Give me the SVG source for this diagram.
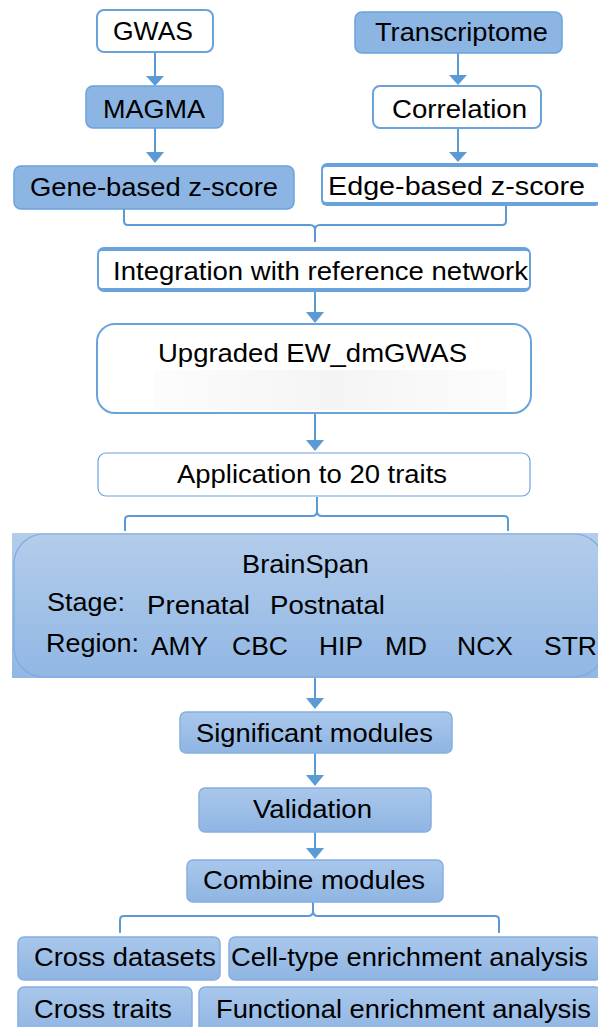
<svg xmlns="http://www.w3.org/2000/svg" width="598" height="1027" viewBox="0 0 598 1027">
  <defs>
    <linearGradient id="gBox" x1="0" y1="0" x2="0" y2="1">
      <stop offset="0" stop-color="#a9c7eb"/>
      <stop offset="1" stop-color="#8fb5e3"/>
    </linearGradient>
    <linearGradient id="gBrain" x1="0" y1="0" x2="0" y2="1">
      <stop offset="0" stop-color="#b3cdeb"/>
      <stop offset="1" stop-color="#91b7e4"/>
    </linearGradient>
    <linearGradient id="gHaze" x1="0" y1="0" x2="1" y2="0">
      <stop offset="0" stop-color="#f5f5f5" stop-opacity="0.3"/>
      <stop offset="0.5" stop-color="#f3f3f3" stop-opacity="0.9"/>
      <stop offset="1" stop-color="#f7f7f7" stop-opacity="0.4"/>
    </linearGradient>
  </defs>
  <style>
    text { font-family: "Liberation Sans", Arial, sans-serif; font-size: 25px; fill: #000; }
    .white { fill: #fff; stroke: #6aa2dc; stroke-width: 2; }
    .thin { fill: #fff; stroke: #6aa2dc; stroke-width: 1.2; }
    .blue { fill: #8db5e4; stroke: #6aa2dc; stroke-width: 1.5; }
    .grad { fill: url(#gBox); stroke: #86afe0; stroke-width: 1.5; }
    .band { fill: #6aa2dc; }
    .line { fill: none; stroke: #5b9bd5; stroke-width: 2; }
    .head { fill: #5b9bd5; }
  </style>

  <!-- connectors -->
  <g id="connectors">
    <!-- GWAS -> MAGMA -->
    <path class="line" d="M155,52 V77"/>
    <path class="head" d="M146,76 H164 L155,86 Z"/>
    <!-- MAGMA -> Gene-based -->
    <path class="line" d="M155,128 V153"/>
    <path class="head" d="M146,152 H164 L155,163 Z"/>
    <!-- Transcriptome -> Correlation -->
    <path class="line" d="M458,53 V76"/>
    <path class="head" d="M449,75 H467 L458,85 Z"/>
    <!-- Correlation -> Edge-based -->
    <path class="line" d="M458,128 V153"/>
    <path class="head" d="M449,152 H467 L458,162 Z"/>
    <!-- z-scores merge brace -->
    <path class="line" d="M124,209 V221 Q124,225 128,225 H310 Q315,225 315,230 Q315,225 320,225 H502 Q506,225 506,221 V205"/>
    <path class="line" d="M315,229 V242"/>
    <!-- Integration -> Upgraded -->
    <path class="line" d="M315,292 V313"/>
    <path class="head" d="M306,312 H324 L315,323 Z"/>
    <!-- Upgraded -> Application -->
    <path class="line" d="M315,413 V441"/>
    <path class="head" d="M306,440 H324 L315,451 Z"/>
    <!-- Application -> BrainSpan brace -->
    <path class="line" d="M317,497 V511"/>
    <path class="line" d="M125,531 V520 Q125,516 129,516 H312 Q317,516 317,511 Q317,516 322,516 H504 Q508,516 508,520 V531"/>
    <!-- BrainSpan -> Significant modules -->
    <path class="line" d="M315,677 V699"/>
    <path class="head" d="M306,698 H324 L315,709 Z"/>
    <!-- Significant modules -> Validation -->
    <path class="line" d="M315,753 V776"/>
    <path class="head" d="M306,775 H324 L315,786 Z"/>
    <!-- Validation -> Combine modules -->
    <path class="line" d="M315,832 V849"/>
    <path class="head" d="M306,848 H324 L315,859 Z"/>
    <!-- Combine modules -> downstream brace -->
    <path class="line" d="M313,902 V911"/>
    <path class="line" d="M120,933 V920 Q120,916 124,916 H308 Q313,916 313,911 Q313,916 318,916 H495 Q499,916 499,920 V933"/>
  </g>

  <!-- GWAS branch -->
  <g id="gwas">
    <rect class="white" x="97" y="10" width="116" height="42" rx="7"/>
    <text x="113" y="40" textLength="80" lengthAdjust="spacingAndGlyphs">GWAS</text>
  </g>
  <g id="magma">
    <rect class="blue" x="86" y="86" width="137" height="42" rx="7"/>
    <text x="103" y="118" textLength="102" lengthAdjust="spacingAndGlyphs">MAGMA</text>
  </g>
  <g id="gene-zscore">
    <rect class="blue" x="14" y="166" width="280" height="43" rx="7"/>
    <text x="30" y="196" textLength="248" lengthAdjust="spacingAndGlyphs">Gene-based z-score</text>
  </g>

  <!-- Transcriptome branch -->
  <g id="transcriptome">
    <rect class="blue" x="355" y="12" width="207" height="41" rx="7"/>
    <text x="375" y="41" textLength="173" lengthAdjust="spacingAndGlyphs">Transcriptome</text>
  </g>
  <g id="correlation">
    <rect class="white" x="373" y="86" width="168" height="42" rx="7"/>
    <text x="392" y="118" textLength="135" lengthAdjust="spacingAndGlyphs">Correlation</text>
  </g>
  <g id="edge-zscore">
    <rect class="band" x="321" y="163" width="280" height="43" rx="6"/>
    <rect x="323" y="167" width="280" height="35" rx="3" fill="#fff"/>
    <text x="328" y="195" textLength="257" lengthAdjust="spacingAndGlyphs">Edge-based z-score</text>
  </g>

  <!-- Integration -->
  <g id="integration">
    <rect class="band" x="97" y="247" width="434" height="45" rx="7"/>
    <rect x="99" y="251" width="430" height="37" rx="3" fill="#fff"/>
    <text x="113" y="280" textLength="415" lengthAdjust="spacingAndGlyphs">Integration with reference network</text>
  </g>

  <!-- Upgraded EW_dmGWAS -->
  <g id="upgraded">
    <rect class="white" x="97" y="324" width="434" height="89" rx="18" stroke-width="1.5"/>
    <rect x="155" y="370" width="352" height="40" fill="url(#gHaze)"/>
    <text x="158" y="362" textLength="309" lengthAdjust="spacingAndGlyphs">Upgraded EW_dmGWAS</text>
  </g>

  <!-- Application -->
  <g id="application">
    <rect class="thin" x="98" y="453" width="432" height="43" rx="8"/>
    <text x="177" y="483" textLength="270" lengthAdjust="spacingAndGlyphs">Application to 20 traits</text>
  </g>

  <!-- BrainSpan -->
  <g id="brainspan">
    <rect x="12" y="533" width="586" height="145" fill="url(#gBrain)"/>
    <rect x="14" y="534" width="590" height="143" rx="30" fill="url(#gBrain)" stroke="#7fabdd" stroke-width="1.2"/>
    <text x="242" y="573" textLength="127" lengthAdjust="spacingAndGlyphs">BrainSpan</text>
    <text x="47" y="611" textLength="78" lengthAdjust="spacingAndGlyphs">Stage:</text>
    <text x="147" y="614" textLength="103" lengthAdjust="spacingAndGlyphs">Prenatal</text>
    <text x="270" y="614" textLength="115" lengthAdjust="spacingAndGlyphs">Postnatal</text>
    <text x="46" y="652" textLength="93" lengthAdjust="spacingAndGlyphs">Region:</text>
    <text x="151" y="655" textLength="57" lengthAdjust="spacingAndGlyphs">AMY</text>
    <text x="232" y="655" textLength="56" lengthAdjust="spacingAndGlyphs">CBC</text>
    <text x="319" y="655" textLength="44" lengthAdjust="spacingAndGlyphs">HIP</text>
    <text x="385" y="655" textLength="42" lengthAdjust="spacingAndGlyphs">MD</text>
    <text x="457" y="655" textLength="56" lengthAdjust="spacingAndGlyphs">NCX</text>
    <text x="544" y="655" textLength="53" lengthAdjust="spacingAndGlyphs">STR</text>
  </g>

  <!-- Downstream steps -->
  <g id="significant">
    <rect class="grad" x="180" y="712" width="272" height="41" rx="6"/>
    <text x="196" y="742" textLength="237" lengthAdjust="spacingAndGlyphs">Significant modules</text>
  </g>
  <g id="validation">
    <rect class="grad" x="199" y="788" width="232" height="44" rx="6"/>
    <text x="253" y="818" textLength="119" lengthAdjust="spacingAndGlyphs">Validation</text>
  </g>
  <g id="combine">
    <rect class="grad" x="187" y="860" width="256" height="42" rx="6"/>
    <text x="203" y="889" textLength="222" lengthAdjust="spacingAndGlyphs">Combine modules</text>
  </g>

  <!-- Outputs -->
  <g id="cross-datasets">
    <rect class="grad" x="18" y="937" width="202" height="43" rx="6"/>
    <text x="34" y="966" textLength="182" lengthAdjust="spacingAndGlyphs">Cross datasets</text>
  </g>
  <g id="cell-type">
    <rect class="grad" x="229" y="937" width="372" height="43" rx="6"/>
    <text x="231" y="966" textLength="357" lengthAdjust="spacingAndGlyphs">Cell-type enrichment analysis</text>
  </g>
  <g id="cross-traits">
    <rect class="grad" x="18" y="987" width="174" height="48" rx="6"/>
    <text x="34" y="1018" textLength="138" lengthAdjust="spacingAndGlyphs">Cross traits</text>
  </g>
  <g id="functional">
    <rect class="grad" x="199" y="987" width="402" height="48" rx="6"/>
    <text x="216" y="1018" textLength="375" lengthAdjust="spacingAndGlyphs">Functional enrichment analysis</text>
  </g>
</svg>
